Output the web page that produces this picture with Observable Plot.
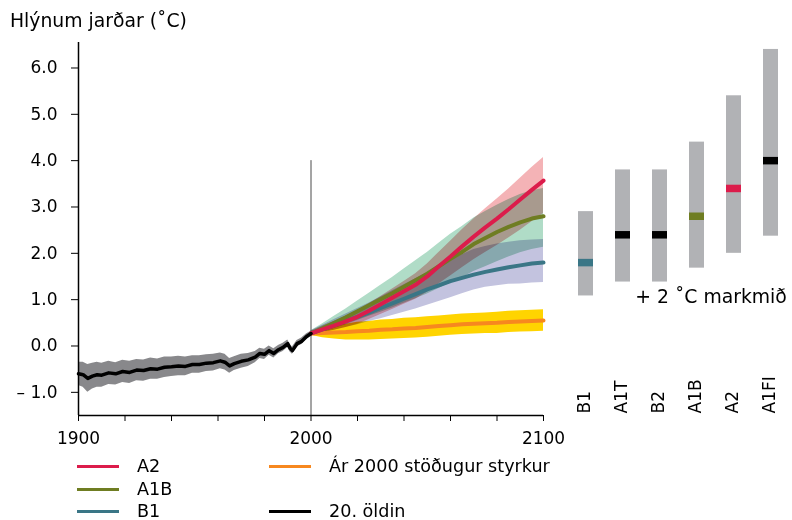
<!DOCTYPE html>
<html><head><meta charset="utf-8">
<script src="https://cdn.jsdelivr.net/npm/d3@7"></script>
<script src="https://cdn.jsdelivr.net/npm/@observablehq/plot@0.6"></script>
<style>
body{margin:0;background:#fff;font-family:"DejaVu Sans",Verdana,sans-serif;color:#000}
#wrap{position:relative;width:792px;height:520px;overflow:hidden;background:#fff}
#wrap svg{position:absolute;top:0}
.title{position:absolute;left:10px;top:10px;font-size:18.8px;line-height:22px;white-space:nowrap}
.sw{position:absolute;height:3px;width:42px}
.tx{position:absolute;font-size:17.6px;line-height:16px;white-space:nowrap}
</style></head><body>
<div id="wrap"></div>
<script>
// ---------- data ----------
const titleText = "Hlýnum jarðar (˚C)";
const yDomain = [-1.5, 6.55];
const yTicks = [-1, 0, 1, 2, 3, 4, 5, 6];
const xTicks = [1900, 1920, 1940, 1960, 1980, 2000, 2020, 2040, 2060, 2080, 2100];
const xLabeled = [1900, 2000, 2100];
const divideYear = 2000;
const divideTop = 4.0;

// 20th century observations
const years20 = [1900,1902,1904,1906,1908,1910,1913,1916,1919,1922,1925,1928,1931,1934,1937,1940,1943,1946,1949,1952,1955,1958,1961,1963,1965,1967,1970,1973,1976,1978,1980,1982,1984,1986,1988,1990,1991,1992,1994,1996,1998,2000];
const obs20 = [-0.60,-0.62,-0.70,-0.65,-0.62,-0.63,-0.58,-0.60,-0.55,-0.57,-0.52,-0.53,-0.49,-0.50,-0.46,-0.45,-0.43,-0.44,-0.40,-0.40,-0.37,-0.36,-0.32,-0.35,-0.43,-0.38,-0.33,-0.30,-0.24,-0.16,-0.18,-0.10,-0.16,-0.08,-0.03,0.05,-0.05,-0.10,0.05,0.10,0.20,0.27];
const spread20 = [0.25,0.27,0.30,0.28,0.27,0.26,0.25,0.24,0.24,0.24,0.23,0.23,0.23,0.22,0.22,0.21,0.21,0.20,0.19,0.19,0.18,0.18,0.17,0.17,0.16,0.15,0.15,0.14,0.12,0.11,0.11,0.10,0.10,0.09,0.09,0.08,0.08,0.08,0.07,0.07,0.06,0.05];

// scenario projections 2000-2100
const yearsProj = [2000,2005,2010,2015,2020,2025,2030,2035,2040,2045,2050,2055,2060,2065,2070,2075,2080,2085,2090,2095,2100];
const a2Mid  = [0.27,0.36,0.44,0.53,0.63,0.76,0.90,1.04,1.18,1.32,1.50,1.72,1.93,2.15,2.36,2.56,2.75,2.95,3.16,3.37,3.57];
const a2Hi   = [0.32,0.43,0.53,0.64,0.76,0.91,1.07,1.23,1.39,1.56,1.77,2.02,2.26,2.51,2.74,2.96,3.17,3.39,3.62,3.85,4.07];
const a2Lo   = [0.22,0.28,0.34,0.40,0.47,0.57,0.68,0.79,0.90,1.01,1.16,1.34,1.51,1.69,1.86,2.02,2.17,2.33,2.50,2.68,2.86];
const a1bMid = [0.27,0.38,0.50,0.62,0.75,0.88,1.01,1.14,1.28,1.42,1.56,1.72,1.88,2.03,2.20,2.33,2.46,2.57,2.67,2.75,2.80];
const a1bHi  = [0.33,0.48,0.64,0.80,0.97,1.14,1.31,1.48,1.66,1.84,2.02,2.22,2.41,2.58,2.76,2.90,3.04,3.16,3.27,3.35,3.40];
const a1bLo  = [0.22,0.29,0.38,0.46,0.55,0.64,0.73,0.82,0.92,1.02,1.12,1.24,1.36,1.47,1.61,1.71,1.82,1.92,2.01,2.08,2.13];
const b1Mid  = [0.27,0.36,0.45,0.54,0.63,0.72,0.82,0.92,1.02,1.12,1.22,1.31,1.40,1.47,1.54,1.60,1.65,1.70,1.74,1.78,1.80];
const b1Hi   = [0.33,0.45,0.57,0.69,0.81,0.93,1.06,1.19,1.32,1.45,1.58,1.71,1.84,1.97,2.08,2.15,2.20,2.24,2.27,2.29,2.30];
const b1Lo   = [0.22,0.28,0.34,0.40,0.46,0.53,0.59,0.66,0.73,0.80,0.88,0.96,1.04,1.13,1.21,1.27,1.30,1.33,1.34,1.36,1.37];
const constMid = [0.27,0.28,0.29,0.30,0.32,0.33,0.35,0.36,0.38,0.39,0.41,0.43,0.45,0.47,0.48,0.49,0.50,0.52,0.53,0.54,0.55];
const constHi  = [0.31,0.38,0.43,0.47,0.51,0.53,0.56,0.57,0.60,0.61,0.63,0.65,0.67,0.69,0.70,0.71,0.73,0.75,0.76,0.77,0.78];
const constLo  = [0.23,0.18,0.15,0.13,0.13,0.13,0.14,0.15,0.16,0.17,0.19,0.21,0.23,0.25,0.26,0.27,0.27,0.29,0.30,0.31,0.32];

// likely ranges at 2090-2099 (bars on the right)
const barNames = ["B1", "A1T", "B2", "A1B", "A2", "A1FI"];
const barLow   = [1.08, 1.38, 1.38, 1.68, 2.0, 2.37];
const barHigh  = [2.9, 3.8, 3.8, 4.4, 5.4, 6.4];
const barBest  = [1.8, 2.4, 2.4, 2.8, 3.4, 4.0];
const targetLabel = "+ 2 ˚C markmið";
const targetY = 1.05;

// legend
const legendLeft = ["A2", "A1B", "B1"];
const legendRight = ["Ár 2000 stöðugur styrkur", "", "20. öldin"];

// ---------- styles ----------
const font = "'DejaVu Sans', Verdana, sans-serif";
const C = {
  A2: "#dc1c4b", A1B: "#6f7d22", B1: "#3a7686", konst: "#f7881f", obs: "#000000",
  A2band: "#f4b3b6", A1Bband: "#b0dcc7", B1band: "#c3c3df", konstBand: "#ffd400", obsBand: "#88888b",
  bar: "#b1b2b5", A1T: "#000000", B2: "#000000", A1FI: "#000000"
};
const barMarkColor = barNames.map(n => C[n]);
const legendLeftColor = legendLeft.map(n => C[n]);
const legendRightColor = [C.konst, null, C.obs];

const scen = [
  {mid: constMid, lo: constLo, hi: constHi, line: C.konst, band: C.konstBand},
  {mid: b1Mid, lo: b1Lo, hi: b1Hi, line: C.B1, band: C.B1band},
  {mid: a1bMid, lo: a1bLo, hi: a1bHi, line: C.A1B, band: C.A1Bband},
  {mid: a2Mid, lo: a2Lo, hi: a2Hi, line: C.A2, band: C.A2band}
];

const fmtY = d => d < 0 ? "– " + Math.abs(d).toFixed(1) : d.toFixed(1);

const main = Plot.plot({
  width: 570, height: 520,
  marginTop: 42, marginBottom: 105, marginLeft: 78, marginRight: 27,
  style: {background: "transparent", fontFamily: font, fontSize: "17px", color: "#000"},
  x: {domain: [1900, 2100]},
  y: {domain: yDomain},
  marks: [
    Plot.areaY(years20, {x: d => d, y1: (d, i) => obs20[i] - spread20[i], y2: (d, i) => obs20[i] + spread20[i], fill: C.obsBand}),
    ...scen.map(s => Plot.areaY(yearsProj, {x: d => d, y1: (d, i) => s.lo[i], y2: (d, i) => s.hi[i], fill: s.band, mixBlendMode: "multiply"})),
    Plot.ruleX([divideYear], {y1: divideTop, y2: yDomain[0], stroke: "#4a4a4a", strokeWidth: 1}),
    ...scen.map(s => Plot.line(yearsProj, {x: d => d, y: (d, i) => s.mid[i], stroke: s.line, strokeWidth: 4})),
    Plot.line(years20, {x: d => d, y: (d, i) => obs20[i], stroke: C.obs, strokeWidth: 3.5}),
    Plot.ruleX([1900], {stroke: "#000", strokeWidth: 1.5}),
    Plot.ruleY([yDomain[0]], {stroke: "#000", strokeWidth: 1.5}),
    Plot.axisY(yTicks, {tickSize: 7, tickPadding: 14, tickFormat: fmtY, label: null, stroke: "#000"}),
    Plot.axisX(xTicks, {tickSize: 6, tickPadding: 10, tickFormat: d => xLabeled.includes(d) ? String(d) : "", label: null, stroke: "#000"})
  ]
});

const bars = Plot.plot({
  width: 232, height: 520,
  marginTop: 42, marginBottom: 105, marginLeft: 4.7, marginRight: 1.7,
  style: {background: "transparent", fontFamily: font, fontSize: "17px", color: "#000"},
  x: {domain: barNames, type: "band", paddingInner: 0.6, paddingOuter: 0.3, axis: null},
  y: {domain: yDomain, axis: null},
  color: {type: "identity"},
  marks: [
    Plot.barY(barNames, {x: d => d, y1: (d, i) => barLow[i], y2: (d, i) => barHigh[i], fill: C.bar}),
    Plot.tickY(barNames, {x: d => d, y: (d, i) => barBest[i], stroke: (d, i) => barMarkColor[i], strokeWidth: 7.5}),
    Plot.text(barNames, {x: d => d, text: d => d, frameAnchor: "bottom", rotate: -90, textAnchor: "start", dx: 3.5, dy: -2, fill: "#000"}),
    Plot.text([targetLabel], {text: d => d, y: () => targetY, frameAnchor: "right", textAnchor: "end", dx: -4, fill: "#000", fontSize: 18.8})
  ]
});

const wrap = document.getElementById("wrap");
main.style.left = "0px";
bars.style.left = "560px";
wrap.appendChild(main);
wrap.appendChild(bars);

const t = document.createElement("div");
t.className = "title";
t.textContent = titleText;
wrap.appendChild(t);

const rowsY = [466, 489, 511];
function addLegend(labels, colors, swX, txX) {
  labels.forEach((lab, i) => {
    if (!lab) return;
    const sw = document.createElement("div");
    sw.className = "sw";
    sw.style.left = swX + "px";
    sw.style.top = (rowsY[i] - 1.5) + "px";
    sw.style.background = colors[i];
    wrap.appendChild(sw);
    const tx = document.createElement("div");
    tx.className = "tx";
    tx.style.left = txX + "px";
    tx.style.top = (rowsY[i] - 8) + "px";
    tx.textContent = lab;
    wrap.appendChild(tx);
  });
}
addLegend(legendLeft, legendLeftColor, 77, 137);
addLegend(legendRight, legendRightColor, 269, 329);
</script>
</body></html>
